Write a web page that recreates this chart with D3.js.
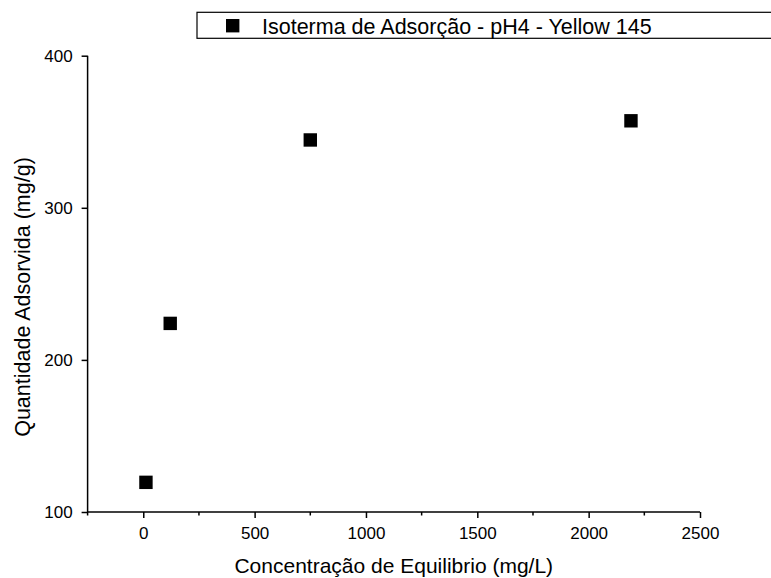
<!DOCTYPE html>
<html>
<head>
<meta charset="utf-8">
<script src="https://cdn.jsdelivr.net/npm/d3@7"></script>
<style>
  body { margin: 0; background: #fff; }
  svg { font-family: Arial, "Liberation Sans", sans-serif; }
  .axis path, .axis line { stroke: #000; stroke-width: 1.5; }
  .axis text { font-size: 17px; fill: #000; }
</style>
</head>
<body>
<svg width="771" height="578"></svg>
<script>
// values
const concentracao = [12, 121, 750, 2190];
const quantidade = [119.5, 224, 344.6, 357.2];
const xTicks = [0, 500, 1000, 1500, 2000, 2500];
const xMinor = [-250, 250, 750, 1250, 1750, 2250];
const yTicks = [100, 200, 300, 400];
const legendLabel = "Isoterma de Adsorção - pH4 - Yellow 145";

const svg = d3.select("svg");

const x = d3.scaleLinear().domain([-250, 2500]).range([87.6, 700]);
const y = d3.scaleLinear().domain([100, 400]).range([512, 55.7]);

// x axis
const gx = svg.append("g")
  .attr("class", "axis")
  .attr("transform", `translate(0,${y(100)})`)
  .call(d3.axisBottom(x).tickValues(xTicks).tickFormat(d3.format("d"))
    .tickSize(6).tickSizeOuter(0).tickPadding(9));
gx.select(".domain").attr("d", `M${x(-250)},0H${x(2500)}`);

gx.selectAll(".minor")
  .data(xMinor)
  .join("line")
  .attr("class", "minor")
  .attr("x1", d => x(d)).attr("x2", d => x(d))
  .attr("y1", 0).attr("y2", 3.5)
  .attr("stroke", "#000").attr("stroke-width", 1.5);

// y axis
const gy = svg.append("g")
  .attr("class", "axis")
  .attr("transform", `translate(${x(-250)},0)`)
  .call(d3.axisLeft(y).tickValues(yTicks).tickFormat(d3.format("d"))
    .tickSize(6).tickSizeOuter(0).tickPadding(9));
gy.select(".domain").attr("d", `M0,${y(100)}V${y(400)}`);

// axis titles
svg.append("text")
  .attr("x", (x(-250) + x(2500)) / 2)
  .attr("y", 573)
  .attr("text-anchor", "middle")
  .attr("font-size", 21)
  .text("Concentração de Equilibrio (mg/L)");

svg.append("text")
  .attr("transform", `translate(30,297) rotate(-90)`)
  .attr("text-anchor", "middle")
  .attr("font-size", 21.5)
  .text("Quantidade Adsorvida (mg/g)");

// points
svg.append("g")
  .selectAll("rect")
  .data(concentracao.map((c, i) => [c, quantidade[i]]))
  .join("rect")
  .attr("x", d => x(d[0]) - 6.7)
  .attr("y", d => y(d[1]) - 6.7)
  .attr("width", 13.4)
  .attr("height", 13.4)
  .attr("fill", "#000");

// legend
const leg = svg.append("g");
leg.append("rect")
  .attr("x", 197).attr("y", 12.3)
  .attr("width", 600).attr("height", 26)
  .attr("fill", "#fff").attr("stroke", "#000").attr("stroke-width", 1.2);
leg.append("rect")
  .attr("x", 226).attr("y", 19)
  .attr("width", 13.4).attr("height", 13.4)
  .attr("fill", "#000");
leg.append("text")
  .attr("x", 262).attr("y", 34)
  .attr("font-size", 21.5)
  .text(legendLabel);
</script>
</body>
</html>
